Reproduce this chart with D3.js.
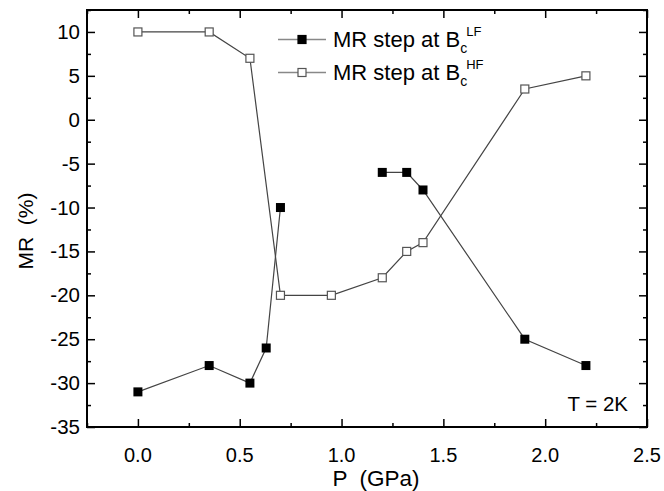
<!DOCTYPE html>
<html>
<head>
<script src="https://d3js.org/d3.v7.min.js"></script>
<style>
  body { margin: 0; background: #fff; }
  text { font-family: "Liberation Sans", Arial, sans-serif; fill: #000; }
</style>
</head>
<body>
<div id="chart"></div>
<script>
// MR step at Bc LF (filled squares), null = break in the line
const lfP  = [0.0, 0.35, 0.55, 0.63, 0.70, null, 1.20, 1.32, 1.40, 1.90, 2.20];
const lfMR = [-31, -28, -30, -26, -10, null, -6, -6, -8, -25, -28];
// MR step at Bc HF (open squares)
const hfP  = [0.0, 0.35, 0.55, 0.70, 0.95, 1.20, 1.32, 1.40, 1.90, 2.20];
const hfMR = [10, 10, 7, -20, -20, -18, -15, -14, 3.5, 5];

const xTicks = [0.0, 0.5, 1.0, 1.5, 2.0, 2.5];
const yTicks = [-35, -30, -25, -20, -15, -10, -5, 0, 5, 10];

const width = 664, height = 491;
const m = {left: 87, right: 17, top: 10, bottom: 64};
const iw = width - m.left - m.right, ih = height - m.top - m.bottom;

const svg = d3.select('#chart').append('svg')
  .attr('width', width).attr('height', height);
const g = svg.append('g').attr('transform', `translate(${m.left},${m.top})`);

const x = d3.scaleLinear().domain([-0.25, 2.5]).range([0, iw]);
const y = d3.scaleLinear().domain([-35, 12.5]).range([ih, 0]);

const xMinor = d3.range(-0.25, 2.51, 0.25).filter(v => Math.abs(v * 2 - Math.round(v * 2)) > 0.01);
const yMinor = d3.range(-32.5, 12.6, 5);

// ticks pointing inward, on all four sides
function ticks(axis, vals, len) {
  g.append('g').attr('transform', axis.t)
    .call(axis.a.tickValues(vals).tickSize(-len).tickFormat(''))
    .call(s => s.select('.domain').remove())
    .selectAll('line').attr('stroke', '#000').attr('stroke-width', 1.5);
}
ticks({a: d3.axisBottom(x), t: `translate(0,${ih})`}, xTicks, 8);
ticks({a: d3.axisBottom(x), t: `translate(0,${ih})`}, xMinor, 4);
ticks({a: d3.axisTop(x), t: 'translate(0,0)'}, xTicks, 8);
ticks({a: d3.axisTop(x), t: 'translate(0,0)'}, xMinor, 4);
ticks({a: d3.axisLeft(y), t: 'translate(0,0)'}, yTicks, 8);
ticks({a: d3.axisLeft(y), t: 'translate(0,0)'}, yMinor, 4);
ticks({a: d3.axisRight(y), t: `translate(${iw},0)`}, yTicks, 8);
ticks({a: d3.axisRight(y), t: `translate(${iw},0)`}, yMinor, 4);

g.append('rect').attr('width', iw).attr('height', ih)
  .attr('fill', 'none').attr('stroke', '#000').attr('stroke-width', 2);

// tick labels
g.selectAll('.xl').data(xTicks).enter().append('text')
  .attr('x', d => x(d)).attr('y', ih + 35)
  .attr('text-anchor', 'middle').attr('font-size', 20)
  .text(d => d.toFixed(1));
g.selectAll('.yl').data(yTicks).enter().append('text')
  .attr('x', -7).attr('y', d => y(d) + 7)
  .attr('text-anchor', 'end').attr('font-size', 20.5)
  .text(d => d);

// axis titles
svg.append('text').attr('x', 376).attr('y', 486)
  .attr('text-anchor', 'middle').attr('font-size', 22.5)
  .attr('xml:space', 'preserve').text('P  (GPa)');
svg.append('text').attr('transform', 'translate(33,231) rotate(-90)')
  .attr('text-anchor', 'middle').attr('font-size', 21)
  .attr('xml:space', 'preserve').text('MR  (%)');

// data
const lf = lfP.map((p, i) => ({p: p, v: lfMR[i]}));
const hf = hfP.map((p, i) => ({p: p, v: hfMR[i]}));
const line = d3.line().defined(d => d.p !== null)
  .x(d => x(d.p)).y(d => y(d.v));

g.append('path').datum(lf).attr('d', line)
  .attr('fill', 'none').attr('stroke', '#444').attr('stroke-width', 1.2);
g.append('path').datum(hf).attr('d', line)
  .attr('fill', 'none').attr('stroke', '#444').attr('stroke-width', 1.2);

const s = 9;
g.selectAll('.lf').data(lf.filter(d => d.p !== null)).enter().append('rect')
  .attr('x', d => x(d.p) - s / 2).attr('y', d => y(d.v) - s / 2)
  .attr('width', s).attr('height', s).attr('fill', '#000');
g.selectAll('.hf').data(hf).enter().append('rect')
  .attr('x', d => x(d.p) - s / 2 + 0.5).attr('y', d => y(d.v) - s / 2 + 0.5)
  .attr('width', s - 1).attr('height', s - 1)
  .attr('fill', '#fff').attr('stroke', '#555').attr('stroke-width', 1.2);

// legend
const leg = [{y: 39.5, filled: true, sup: 'LF'}, {y: 72.5, filled: false, sup: 'HF'}];
leg.forEach(d => {
  svg.append('line').attr('x1', 278).attr('x2', 326).attr('y1', d.y).attr('y2', d.y)
    .attr('stroke', '#888').attr('stroke-width', 1.5);
  svg.append('rect').attr('x', 302 - s / 2 + 0.5).attr('y', d.y - s / 2 + 0.5)
    .attr('width', s - 1).attr('height', s - 1)
    .attr('fill', d.filled ? '#000' : '#fff')
    .attr('stroke', d.filled ? '#000' : '#555').attr('stroke-width', 1.2);
  const t = svg.append('text').attr('x', 333).attr('y', d.y + 7.5).attr('font-size', 22);
  t.append('tspan').text('MR step at B');
  t.append('tspan').attr('font-size', 14).attr('dy', 6).text('c');
  t.append('tspan').attr('font-size', 13).attr('dy', -17).attr('dx', -1).text(d.sup);
});

svg.append('text').attr('x', 628).attr('y', 411)
  .attr('text-anchor', 'end').attr('font-size', 20.5).text('T = 2K');
</script>
</body>
</html>
